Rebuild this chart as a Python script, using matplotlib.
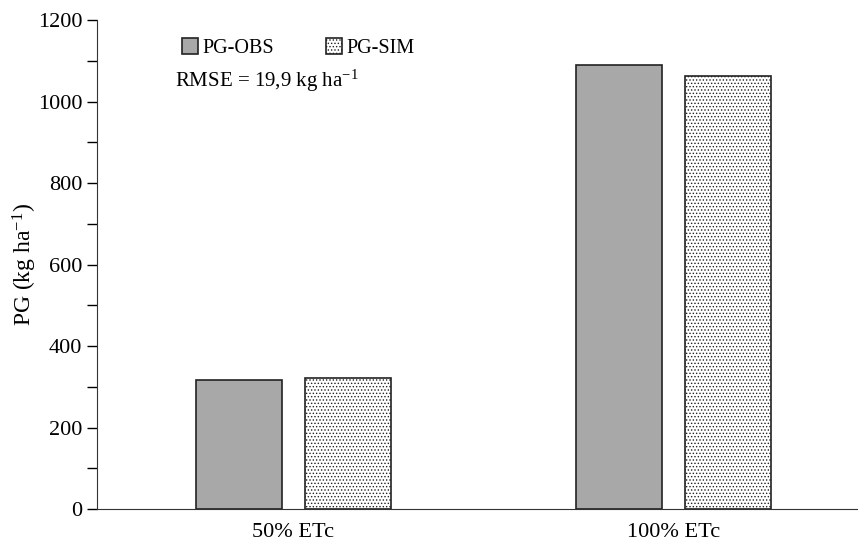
import numpy as np
import matplotlib.pyplot as plt
from matplotlib.ticker import MultipleLocator

plt.rcParams['font.family'] = ['Liberation Serif', 'DejaVu Serif']
plt.rcParams['mathtext.fontset'] = 'custom'
plt.rcParams['mathtext.rm'] = 'Liberation Serif'
plt.rcParams['hatch.linewidth'] = 0.6

categories = ['50% ETc', '100% ETc']
pg_obs = [317, 1090]
pg_sim = [321, 1063]

fig, ax = plt.subplots(figsize=(8.58, 5.44), dpi=100)
fig.subplots_adjust(left=0.113, right=1.0, top=0.963, bottom=0.064)

x = np.arange(len(categories))
w = 0.226
off = 0.143
ax.bar(x - off, pg_obs, w, color='#a8a8a8', edgecolor='#222222', linewidth=1.2, label='PG-OBS')
ax.bar(x + off, pg_sim, w, color='white', edgecolor='#222222', linewidth=1.2,
       hatch='.....', label='PG-SIM')

ax.set_xlim(-0.516, 1.484)
ax.set_ylim(0, 1200)
ax.yaxis.set_major_locator(MultipleLocator(200))
ax.yaxis.set_minor_locator(MultipleLocator(100))
ax.set_xticks(x)
ax.set_xticklabels(categories, fontsize=16)
ax.tick_params(axis='x', length=0, pad=10)
ax.tick_params(axis='y', which='major', length=7, direction='out', labelsize=16, width=1)
ax.tick_params(axis='y', which='minor', length=7, direction='out', width=1)
ax.spines['top'].set_visible(False)
ax.spines['right'].set_visible(False)
ax.spines['left'].set_color('#333333')
ax.spines['bottom'].set_color('#333333')
ax.set_ylabel(r'PG (kg ha$\mathregular{^{-1}}$)', fontsize=17)
ax.yaxis.set_label_coords(-0.076, 0.5)

ax.legend(loc='upper left', bbox_to_anchor=(0.088, 1.0), ncol=2, frameon=False,
          fontsize=14.5, handlelength=0.8, handleheight=0.8, handletextpad=0.2,
          columnspacing=2.6)
ax.text(0.103, 0.875, r'RMSE = 19,9 kg ha$\mathregular{^{-1}}$', transform=ax.transAxes,
        fontsize=15, va='center')

fig.savefig('out.png', dpi=100)
